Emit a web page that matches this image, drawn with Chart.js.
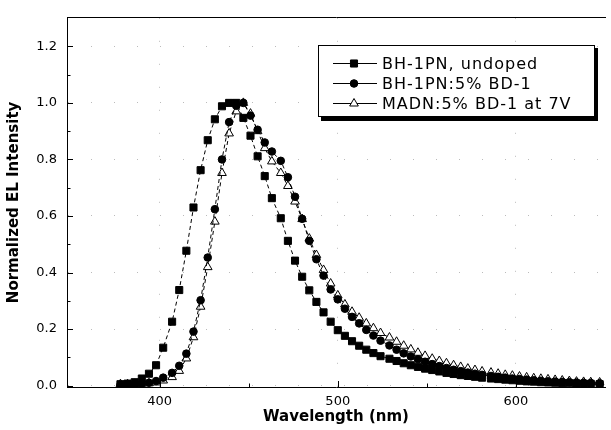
<!DOCTYPE html>
<html>
<head>
<meta charset="utf-8">
<script src="https://cdn.jsdelivr.net/npm/chart.js@4/dist/chart.umd.min.js"></script>
<style>
    html, body { margin: 0; padding: 0; background: #fff; }
    #wrap { width: 611px; height: 430px; }
</style>
</head>
<body>
<div id="wrap"><canvas id="chart"></canvas></div>
<script>
// Данные
const wavelengths = [378, 382, 386, 390, 394, 398, 402, 407, 411, 415, 419, 423, 427, 431, 435, 439, 443, 447, 451, 455,
    459, 463, 468, 472, 476, 480, 484, 488, 492, 496, 500, 504, 508, 512, 516, 520, 524, 529, 533, 537,
    541, 545, 549, 553, 557, 561, 565, 569, 573, 577, 581, 586, 590, 594, 598, 602, 606, 610, 614, 618,
    622, 626, 630, 634, 638, 642, 647];

const undoped = [0.005, 0.007, 0.012, 0.025, 0.042, 0.072, 0.134, 0.226, 0.338, 0.477, 0.630, 0.762, 0.868, 0.942, 0.988, 1.0, 1.0, 0.947, 0.884, 0.811,
    0.741, 0.663, 0.592, 0.512, 0.442, 0.385, 0.337, 0.296, 0.259, 0.226, 0.196, 0.176, 0.157, 0.141, 0.127, 0.115, 0.104, 0.095, 0.087, 0.079,
    0.072, 0.066, 0.060, 0.055, 0.050, 0.045, 0.041, 0.037, 0.034, 0.031, 0.028, 0.025, 0.023, 0.021, 0.019, 0.017, 0.015, 0.014, 0.012, 0.011,
    0.010, 0.009, 0.008, 0.007, 0.006, 0.006, 0.005];

const doped = [0.003, 0.004, 0.005, 0.007, 0.010, 0.016, 0.028, 0.045, 0.070, 0.113, 0.191, 0.302, 0.453, 0.624, 0.800, 0.932, 0.990, 1.0, 0.955, 0.905,
    0.860, 0.828, 0.795, 0.737, 0.668, 0.590, 0.512, 0.447, 0.389, 0.340, 0.305, 0.272, 0.243, 0.220, 0.197, 0.177, 0.159, 0.142, 0.127, 0.114,
    0.103, 0.093, 0.084, 0.076, 0.069, 0.062, 0.056, 0.051, 0.046, 0.042, 0.038, 0.034, 0.031, 0.028, 0.025, 0.023, 0.021, 0.019, 0.017, 0.015,
    0.014, 0.013, 0.012, 0.011, 0.010, 0.009, 0.008];

const madn = [0.005, 0.005, 0.006, 0.007, 0.008, 0.011, 0.018, 0.030, 0.052, 0.096, 0.171, 0.279, 0.419, 0.580, 0.752, 0.892, 0.970, 1.0, 0.962, 0.900,
    0.840, 0.793, 0.752, 0.706, 0.651, 0.589, 0.520, 0.462, 0.409, 0.361, 0.319, 0.287, 0.261, 0.240, 0.220, 0.203, 0.186, 0.170, 0.155, 0.141,
    0.128, 0.116, 0.105, 0.095, 0.087, 0.079, 0.072, 0.066, 0.060, 0.055, 0.050, 0.046, 0.042, 0.038, 0.035, 0.032, 0.029, 0.026, 0.024, 0.022,
    0.020, 0.018, 0.016, 0.014, 0.013, 0.012, 0.011];

const seriesLabels = ['BH-1PN, undoped', 'BH-1PN:5% BD-1', 'MADN:5% BD-1 at 7V'];
const xTicks = [400, 500, 600];
const xMinorTicks = [450, 550];
const yTicks = [0.0, 0.2, 0.4, 0.6, 0.8, 1.0, 1.2];
const yMinorTicks = [0.1, 0.3, 0.5, 0.7, 0.9, 1.1];

const FONT = 'DejaVu Sans';

function toPoints(values) {
    return values.map((v, i) => ({ x: wavelengths[i], y: v }));
}

// Стиль серий
const styles = [
    { pointStyle: 'rect', radius: 5, fill: '#000' },
    { pointStyle: 'circle', radius: 3.8, fill: '#000' },
    { pointStyle: 'triangle', radius: 5, fill: '#fff' }
];

const datasets = [undoped, doped, madn].map((vals, i) => ({
    label: seriesLabels[i],
    data: toPoints(vals),
    borderColor: '#000',
    borderWidth: 1,
    borderDash: [4, 3],
    backgroundColor: styles[i].fill,
    pointStyle: styles[i].pointStyle,
    pointRadius: styles[i].radius,
    pointBorderColor: '#000',
    pointBackgroundColor: styles[i].fill,
    pointBorderWidth: 1,
    tension: 0
}));

// Внутренние засечки осей
const innerTicks = {
    id: 'innerTicks',
    afterDraw(chart) {
        const { ctx, chartArea: a, scales: { x, y } } = chart;
        ctx.save();
        ctx.strokeStyle = '#000';
        ctx.lineWidth = 1;
        ctx.beginPath();
        yTicks.forEach(v => {
            const py = Math.round(y.getPixelForValue(v)) + 0.5;
            ctx.moveTo(a.left, py); ctx.lineTo(a.left + 6, py);
        });
        yMinorTicks.forEach(v => {
            const py = Math.round(y.getPixelForValue(v)) + 0.5;
            ctx.moveTo(a.left, py); ctx.lineTo(a.left + 3.5, py);
        });
        xTicks.forEach(v => {
            const px = Math.round(x.getPixelForValue(v)) + 0.5;
            ctx.moveTo(px, a.bottom); ctx.lineTo(px, a.bottom - 6);
        });
        xMinorTicks.forEach(v => {
            const px = Math.round(x.getPixelForValue(v)) + 0.5;
            ctx.moveTo(px, a.bottom); ctx.lineTo(px, a.bottom - 3.5);
        });
        ctx.stroke();
        ctx.restore();
    }
};

// Легенда внутри графика
const boxLegend = {
    id: 'boxLegend',
    afterDraw(chart) {
        const ctx = chart.ctx;
        const left = 318, top = 45, w = 277, h = 72;
        ctx.save();
        ctx.fillStyle = '#000';
        ctx.fillRect(left + 3, top + 3, w, h + 1);
        ctx.fillStyle = '#fff';
        ctx.fillRect(left, top, w, h);
        ctx.strokeStyle = '#000';
        ctx.lineWidth = 1;
        ctx.strokeRect(left + 0.5, top + 0.5, w - 1, h - 1);

        ctx.font = '16px "' + FONT + '"';
        ctx.letterSpacing = '1px';
        ctx.textBaseline = 'middle';
        ctx.textAlign = 'left';
        seriesLabels.forEach((label, i) => {
            const yy = top + 18.5 + i * 20;
            ctx.beginPath();
            ctx.moveTo(333, yy); ctx.lineTo(377, yy);
            ctx.strokeStyle = '#000';
            ctx.stroke();
            ctx.fillStyle = styles[i].fill;
            ctx.strokeStyle = '#000';
            Chart.helpers.drawPoint(ctx, {
                pointStyle: styles[i].pointStyle,
                radius: styles[i].radius,
                rotation: 0,
                borderWidth: 1
            }, 354, yy);
            ctx.fillStyle = '#000';
            ctx.fillText(label, 382, yy + 1);
        });
        ctx.restore();
    }
};

const ctx = document.getElementById('chart').getContext('2d');
const chart = new Chart(ctx, {
    type: 'line',
    data: { datasets: datasets },
    options: {
        responsive: true,
        maintainAspectRatio: false,
        devicePixelRatio: 1,
        animation: false,
        layout: { padding: 0 },
        plugins: {
            legend: { display: false },
            tooltip: { enabled: false }
        },
        scales: {
            x: {
                type: 'linear',
                position: 'bottom',
                min: 348,
                max: 650,
                afterFit: s => { s.height = 43; },
                afterBuildTicks: s => { s.ticks = xTicks.map(v => ({ value: v })); },
                ticks: {
                    color: '#000',
                    padding: 7,
                    font: { family: FONT, size: 13 },
                    callback: v => String(v)
                },
                grid: {
                    drawTicks: false,
                    color: '#bbb',
                    lineWidth: 1
                },
                border: { display: true, color: '#000', width: 1, dash: [1, 22] },
                title: {
                    display: true,
                    text: 'Wavelength (nm)',
                    color: '#000',
                    padding: { top: 0, bottom: 4 },
                    font: { family: FONT, size: 15, weight: 'bold' }
                }
            },
            x2: {
                type: 'linear',
                position: 'top',
                min: 348,
                max: 650,
                afterFit: s => { s.height = 13; },
                ticks: { display: false },
                grid: { display: false, drawTicks: false },
                border: { display: true, color: '#000', width: 1 }
            },
            y: {
                type: 'linear',
                position: 'left',
                min: -0.005,
                max: 1.301,
                afterFit: s => { s.width = 67; },
                afterBuildTicks: s => { s.ticks = yTicks.map(v => ({ value: v })); },
                ticks: {
                    color: '#000',
                    padding: 10,
                    font: { family: FONT, size: 13 },
                    callback: v => Number(v).toFixed(1)
                },
                grid: {
                    drawTicks: false,
                    color: '#bbb',
                    lineWidth: 1
                },
                border: { display: true, color: '#000', width: 1, dash: [1, 22] },
                title: {
                    display: true,
                    text: 'Normalized EL Intensity',
                    color: '#000',
                    padding: { top: 5, bottom: 0 },
                    font: { family: FONT, size: 15, weight: 'bold' }
                }
            }
        }
    },
    plugins: [innerTicks, boxLegend]
});
</script>
</body>
</html>
